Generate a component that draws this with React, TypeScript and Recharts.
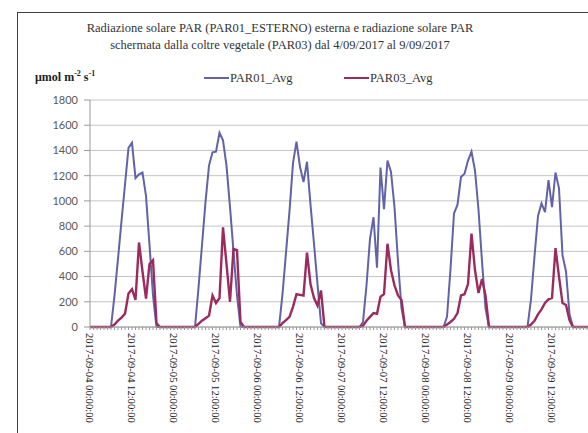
import React from 'react';
import { LineChart, Line, XAxis, YAxis, CartesianGrid } from 'recharts';

// giorni del periodo e valori orari (00..23)
const days = ['2017-09-04', '2017-09-05', '2017-09-06', '2017-09-07', '2017-09-08', '2017-09-09'];

const par01Day04 = [0, 0, 0, 0, 0, 0, 0, 250, 540, 840, 1130, 1420, 1460, 1180, 1210, 1225, 1040, 650, 250, 0, 0, 0, 0, 0];
const par01Day05 = [0, 0, 0, 0, 0, 0, 0, 310, 650, 990, 1280, 1385, 1390, 1540, 1480, 1280, 950, 600, 250, 0, 0, 0, 0, 0];
const par01Day06 = [0, 0, 0, 0, 0, 0, 0, 260, 590, 920, 1300, 1470, 1270, 1150, 1310, 970, 660, 340, 30, 0, 0, 0, 0, 0];
const par01Day07 = [0, 0, 0, 0, 0, 0, 40, 330, 700, 870, 470, 1265, 935, 1320, 1230, 950, 520, 150, 0, 0, 0, 0, 0, 0];
const par01Day08 = [0, 0, 0, 0, 0, 0, 80, 460, 900, 970, 1190, 1215, 1320, 1390, 1240, 930, 520, 150, 0, 0, 0, 0, 0, 0];
const par01Day09 = [0, 0, 0, 0, 0, 0, 220, 560, 880, 980, 910, 1165, 950, 1225, 1100, 570, 440, 100, 0, 0, 0, 0, 0, 0];

const par03Day04 = [0, 0, 0, 0, 0, 0, 0, 20, 50, 75, 105, 265, 300, 215, 670, 440, 225, 500, 530, 30, 0, 0, 0, 0];
const par03Day05 = [0, 0, 0, 0, 0, 0, 0, 25, 50, 70, 90, 250, 190, 230, 790, 500, 200, 620, 610, 40, 0, 0, 0, 0];
const par03Day06 = [0, 0, 0, 0, 0, 0, 0, 30, 55, 80, 160, 260, 255, 250, 590, 340, 230, 170, 290, 0, 0, 0, 0, 0];
const par03Day07 = [0, 0, 0, 0, 0, 0, 10, 50, 80, 110, 105, 240, 260, 660, 450, 330, 250, 215, 0, 0, 0, 0, 0, 0];
const par03Day08 = [0, 0, 0, 0, 0, 0, 20, 40, 65, 110, 250, 260, 340, 740, 450, 270, 380, 250, 0, 0, 0, 0, 0, 0];
const par03Day09 = [0, 0, 0, 0, 0, 0, 20, 50, 100, 140, 190, 220, 230, 625, 400, 190, 175, 55, 0, 0, 0, 0, 0, 0];

const par01Days = [par01Day04, par01Day05, par01Day06, par01Day07, par01Day08, par01Day09];
const par03Days = [par03Day04, par03Day05, par03Day06, par03Day07, par03Day08, par03Day09];

const yTicks = [0, 200, 400, 600, 800, 1000, 1200, 1400, 1600, 1800];
const labelHours = ['00', '12'];

const seriesNames = ['PAR01_Avg', 'PAR03_Avg'];
const colors = ['#6262a8', '#9c2b5d'];

const titleLines = [
  'Radiazione solare PAR (PAR01_ESTERNO) esterna e radiazione solare PAR',
  'schermata dalla coltre vegetale (PAR03) dal 4/09/2017 al 9/09/2017',
];

const data = days.flatMap((day, d) =>
  par01Days[d].map((v, h) => ({
    time: `${day} ${String(h).padStart(2, '0')}:00:00`,
    PAR01_Avg: v,
    PAR03_Avg: par03Days[d][h],
  }))
);

const serif = '"Liberation Serif", "Times New Roman", serif';

const HourTick = (props: any) => {
  const { x, y, payload } = props;
  const label: string = payload.value;
  const hh = label.slice(11, 13);
  const show = labelHours.includes(hh) && label.endsWith(':00:00');
  return (
    <g>
      <line x1={x} x2={x} y1={y} y2={y + 3} stroke="#9a9a9a" strokeWidth={1} />
      {show && (
        <text
          transform={`translate(${x},${y + 6}) rotate(90)`}
          x={0}
          y={0}
          dy="0.35em"
          textAnchor="start"
          fontFamily={serif}
          fontSize={10.6}
          fill="#1a1a1a"
        >
          {label}
        </text>
      )}
    </g>
  );
};

export default function App() {
  return (
    <div style={{ position: 'fixed', left: 0, top: 0, width: 588, height: 433, overflow: 'hidden', background: '#fff' }}>
      {/* cornice del riquadro */}
      <div style={{ position: 'absolute', left: 17, top: 12, width: 700, height: 500, borderLeft: '1px solid #404040', borderTop: '1px solid #404040' }} />

      <div style={{ position: 'absolute', left: 0, top: 0 }}>
        <LineChart width={600} height={433} data={data} margin={{ top: 100, right: 9.5, bottom: 0, left: 0 }}>
          <CartesianGrid vertical={false} stroke="#c4c4c4" />
          <XAxis
            dataKey="time"
            interval={0}
            height={106}
            tickSize={0}
            tickMargin={0}
            tickLine={false}
            axisLine={{ stroke: '#9a9a9a' }}
            tick={<HourTick />}
          />
          <YAxis
            width={90}
            domain={[0, 1800]}
            ticks={yTicks}
            tickSize={6}
            tickMargin={6}
            axisLine={{ stroke: '#9a9a9a' }}
            tickLine={{ stroke: '#9a9a9a' }}
            tick={{ fill: '#595959', fontSize: 11, fontFamily: 'Lato, sans-serif' }}
          />
          {seriesNames.map((name, i) => (
            <Line
              key={name}
              type="linear"
              dataKey={name}
              stroke={colors[i]}
              strokeWidth={i === 0 ? 2 : 2.4}
              dot={false}
              isAnimationActive={false}
            />
          ))}
        </LineChart>
      </div>

      {/* titolo */}
      <div style={{ position: 'absolute', left: 80, width: 400, top: 20, textAlign: 'center', fontFamily: serif, fontSize: 12.5, lineHeight: '17px', color: '#333' }}>
        {titleLines.map((t) => (
          <div key={t} style={{ whiteSpace: 'nowrap' }}>{t}</div>
        ))}
      </div>

      {/* unità asse y */}
      <div style={{ position: 'absolute', left: 35, top: 67, fontFamily: serif, fontSize: 12, fontWeight: 'bold', lineHeight: '14px', color: '#222', whiteSpace: 'nowrap' }}>
        μmol m<sup style={{ fontSize: 8 }}>-2</sup> s<sup style={{ fontSize: 8 }}>-1</sup>
      </div>

      {/* legenda */}
      {seriesNames.map((name, i) => (
        <div key={name} style={{ position: 'absolute', left: i === 0 ? 204 : 344, top: 70, display: 'flex', alignItems: 'center', fontFamily: serif, fontSize: 12.5, color: '#333', lineHeight: '16px' }}>
          <span style={{ display: 'inline-block', width: 25, height: 2, background: colors[i], marginRight: 1 }} />
          {name}
        </div>
      ))}
    </div>
  );
}
